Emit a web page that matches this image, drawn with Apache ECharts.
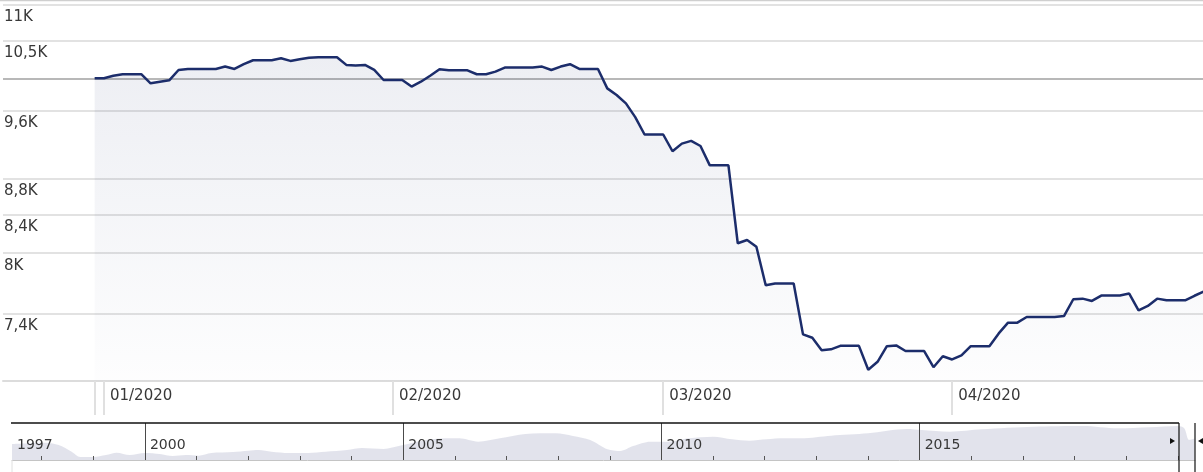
<!DOCTYPE html>
<html><head><meta charset="utf-8">
<script src="https://cdn.jsdelivr.net/npm/echarts@6/dist/echarts.min.js"></script>
<style>html,body{margin:0;padding:0;background:#fff}#c{width:1203px;height:472px}</style>
</head><body><div id="c"></div>
<script>
// ---- data ----
const firstDay = '2019-12-31';
const dailyValues = [
  10010,
  10010,10043,10062,10062,10062,9945,9966,9984,10117,10130,10130,10130,10130,10161,10130,10192,
  10244,10244,10244,10271,10235,10257,10278,10284,10284,10284,10183,10174,10183,10117,9988,
  9988,9988,9904,9966,10043,10126,10113,10113,10113,10062,10062,10096,10148,10148,10148,10148,
  10161,10117,10161,10192,10130,10130,10130,9881,9797,9693,9524,9314,9314,
  9314,9116,9206,9238,9178,8953,8953,8953,8102,8136,8066,7678,7694,7694,7694,7209,7178,7065,
  7072,7104,7104,7104,6890,6960,7101,7108,7057,7057,7057,6912,7010,
  6981,7017,7101,7101,7101,7218,7318,7318,7371,7371,7371,7371,7380,7541,7547,7525,7577,7577,
  7577,7596,7435,7477,7547,7531,7531,7531,7575,7615
];
const refLevel = 10005;
const yTicks = [7400, 8000, 8400, 8800, 9600, 10500, 11000];
const monthTicks = ['2020-01-01', '2020-02-01', '2020-03-01', '2020-04-01'];
const dayMarks = ['2019-12-31', '2020-01-01', '2020-02-01', '2020-03-01', '2020-04-01'];

const navDates = ['1997-06-05','1998-02-01','1998-05-01','1998-08-01','1998-10-01','1999-01-01','1999-04-01',
  '1999-06-15','1999-09-15','2000-01-01','2000-04-15','2000-07-15','2000-10-15','2001-01-15','2001-04-15',
  '2001-09-15','2002-01-01','2002-03-15','2002-06-15','2002-10-15','2003-03-01','2003-07-01','2003-12-01',
  '2004-03-15','2004-08-15','2004-12-15','2005-07-15','2006-02-01','2006-06-15','2006-11-15','2007-05-15',
  '2007-12-15','2008-04-15','2008-08-15','2008-12-15','2009-03-15','2009-06-15','2009-10-15','2010-02-15',
  '2010-07-15','2011-01-01','2011-05-15','2011-09-15','2012-01-15','2012-05-15','2012-09-15','2013-04-15',
  '2014-01-01','2014-10-01','2015-01-15','2015-08-01','2016-03-15','2017-03-15','2018-03-01','2018-11-01',
  '2019-06-15','2020-01-01','2020-02-15','2020-03-20','2020-04-28'];
const navValues = [6140,6420,5930,4490,3360,3360,3790,4280,3790,4220,4000,3570,3790,3640,4220,
  4430,4710,4860,4490,4220,4220,4490,4860,5290,5070,5800,7150,7360,6630,7360,8280,
  8430,7850,7000,5010,4640,5710,6630,6630,7360,7700,7150,6850,7150,7360,7360,7920,
  8430,9350,9140,8770,9290,9840,9990,9500,9720,9990,9500,7000,7300];
const navLabelDates = ['1997-06-05', '2000-01-01', '2005-01-01', '2010-01-01', '2015-01-01'];
const navMajorDates = ['2000-01-01', '2005-01-01', '2010-01-01', '2015-01-01'];
const navMinorDates = ['1998-01-01','1999-01-01','2001-01-01','2002-01-01','2003-01-01','2004-01-01',
  '2006-01-01','2007-01-01','2008-01-01','2009-01-01','2011-01-01','2012-01-01','2013-01-01','2014-01-01',
  '2016-01-01','2017-01-01','2018-01-01','2019-01-01','2020-01-01'];

// ---- build ----
const ts = (s, h) => { const a = s.split('-').map(Number); return new Date(a[0], a[1] - 1, a[2], h || 0).getTime(); };
const p = firstDay.split('-').map(Number);
const mainData = dailyValues.map((v, i) => [new Date(p[0], p[1] - 1, p[2] + i).getTime(), v]);
const navData = navDates.map((d, i) => [ts(d), navValues[i]]);

const FONT = 'DejaVu Sans';
const TXT = '#383838';
const pad2 = n => (n < 10 ? '0' : '') + n;

const chart = echarts.init(document.getElementById('c'), null, { renderer: 'canvas' });
chart.setOption({
  animation: false,
  backgroundColor: '#fff',
  grid: [
    { left: 3, right: 0, top: 1, height: 380 },
    { left: 12, right: 8, top: 423, height: 37 }
  ],
  xAxis: [
    {
      type: 'value', gridIndex: 0, scale: true, position: 'bottom',
      min: ts('2019-12-21', 4),
      max: ts('2020-04-27', 22),
      axisLine: { show: true, lineStyle: { color: '#dcdcdc', width: 2 } },
      axisTick: { show: true, customValues: dayMarks.map(d => ts(d)), length: 34, lineStyle: { color: '#e0e0e0', width: 2 } },
      axisLabel: {
        customValues: monthTicks.map(d => ts(d)), showMinLabel: true, showMaxLabel: true,
        formatter: v => { const d = new Date(v); return pad2(d.getMonth() + 1) + '/' + d.getFullYear(); },
        align: 'left', padding: [0, 0, 0, 6], margin: 8,
        fontFamily: FONT, fontSize: 15, color: TXT
      },
      splitLine: { show: false }
    },
    {
      type: 'value', gridIndex: 1, scale: true, position: 'bottom', z: 6,
      min: ts('1997-06-05'), max: ts('2020-05-01'),
      axisLine: { show: true, lineStyle: { color: '#c4c4c4', width: 1 } },
      axisTick: { show: true, inside: true, length: 37, customValues: navMajorDates.map(d => ts(d)), lineStyle: { color: '#4a4a4a', width: 1 } },
      axisLabel: {
        inside: true, customValues: navLabelDates.map(d => ts(d)), showMinLabel: true, showMaxLabel: true,
        formatter: v => String(new Date(v).getFullYear()),
        align: 'left', padding: [0, 0, 0, 5], margin: 8,
        fontFamily: FONT, fontSize: 14, color: TXT
      },
      splitLine: { show: false }
    },
    {
      type: 'value', gridIndex: 1, scale: true, position: 'bottom', offset: 0, z: 6,
      min: ts('1997-06-05'), max: ts('2020-05-01'),
      axisLine: { show: false },
      axisTick: { show: true, inside: true, length: 4, customValues: navMinorDates.map(d => ts(d)), lineStyle: { color: '#555', width: 1 } },
      axisLabel: { show: false },
      splitLine: { show: false }
    }
  ],
  yAxis: [
    {
      type: 'log', gridIndex: 0, min: 6791, max: 11052,
      axisLine: { show: false },
      axisTick: { show: false, customValues: yTicks },
      axisLabel: {
        inside: true, customValues: yTicks,
        formatter: v => String(Math.round(v) / 1000).replace('.', ',') + 'K',
        align: 'left', verticalAlign: 'top', margin: 1, padding: [5, 0, 0, 0],
        fontFamily: FONT, fontSize: 15, color: TXT
      },
      splitLine: { show: true, lineStyle: { color: '#e2e2e2', width: 2 } }
    },
    { type: 'value', gridIndex: 1, min: 2700, max: 10650, show: false, splitLine: { show: false } }
  ],
  series: [
    {
      type: 'line', xAxisIndex: 0, yAxisIndex: 0, data: mainData,
      symbol: 'none', silent: true,
      lineStyle: { color: '#1c2d6b', width: 2.5 },
      areaStyle: {
        origin: 'start',
        color: new echarts.graphic.LinearGradient(0, 0, 0, 1, [
          { offset: 0, color: 'rgba(28,45,107,0.115)' },
          { offset: 1, color: 'rgba(28,45,107,0.01)' }
        ])
      },
      markLine: {
        silent: true, z: 1, symbol: ['none', 'none'],
        label: { show: false },
        lineStyle: { color: '#a0a0a0', width: 1.5, type: 'solid' },
        data: [{ yAxis: refLevel }]
      }
    },
    {
      type: 'line', xAxisIndex: 1, yAxisIndex: 1, data: navData,
      symbol: 'none', silent: true, smooth: 0.3,
      lineStyle: { width: 0 },
      areaStyle: { color: '#d5d7e4', origin: 'start' }
    }
  ],
  graphic: [
    { type: 'line', z: 100, shape: { x1: 0, y1: 0.5, x2: 1203, y2: 0.5 }, style: { stroke: '#cfcfcf', lineWidth: 1.5 }, silent: true },
    { type: 'line', z: 100, shape: { x1: 11, y1: 423, x2: 1179, y2: 423 }, style: { stroke: '#111', lineWidth: 1.5 }, silent: true },
    { type: 'line', z: 100, shape: { x1: 1179, y1: 423, x2: 1179, y2: 472 }, style: { stroke: '#111', lineWidth: 1.2 }, silent: true },
    { type: 'line', z: 100, shape: { x1: 1195, y1: 423, x2: 1195, y2: 472 }, style: { stroke: '#111', lineWidth: 1.2 }, silent: true },
    { type: 'line', z: 100, shape: { x1: 12, y1: 460, x2: 12, y2: 472 }, style: { stroke: '#e0e0e0', lineWidth: 1 }, silent: true },
    { type: 'polygon', z: 100, shape: { points: [[1170, 438], [1170, 444], [1175, 441]] }, style: { fill: '#111' }, silent: true },
    { type: 'polygon', z: 100, shape: { points: [[1203, 438], [1203, 444], [1198, 441]] }, style: { fill: '#111' }, silent: true }
  ]
});
</script>
</body></html>
